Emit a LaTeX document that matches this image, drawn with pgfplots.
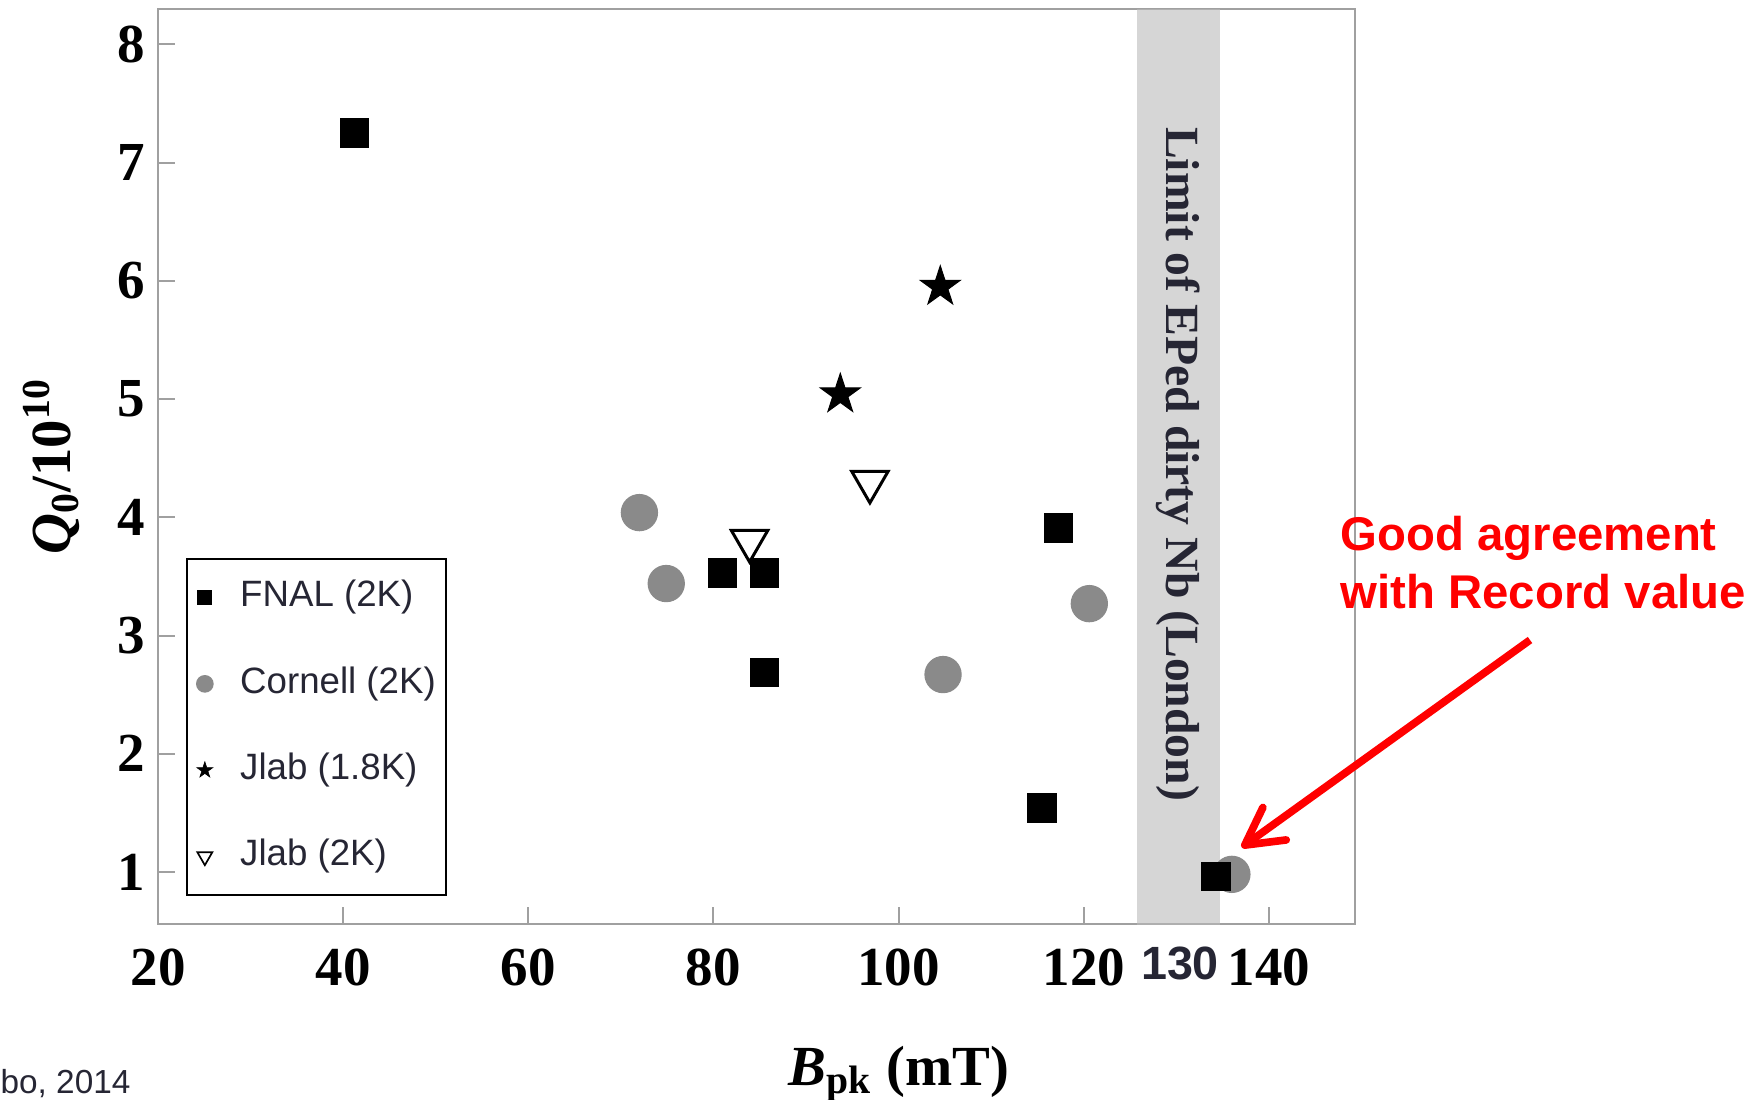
\documentclass[border=0pt]{standalone}
\usepackage{pgfplots}
\pgfplotsset{compat=1.18}
\usepackage{fontspec}
\setmainfont{Liberation Serif}
\newfontfamily\arial{Liberation Sans}
\usetikzlibrary{arrows.meta}
\definecolor{framegray}{RGB}{160,160,160}
\definecolor{cgray}{RGB}{138,138,138}
\definecolor{bandgray}{RGB}{186,186,186}
\definecolor{txtdark}{RGB}{38,38,52}
\definecolor{annred}{RGB}{255,0,0}
\pgfdeclareplotmark{fstar}{%
 \pgfpathmoveto{\pgfpointpolar{90}{\pgfplotmarksize}}%
 \pgfpathlineto{\pgfpointpolar{126}{0.382\pgfplotmarksize}}%
 \pgfpathlineto{\pgfpointpolar{162}{\pgfplotmarksize}}%
 \pgfpathlineto{\pgfpointpolar{198}{0.382\pgfplotmarksize}}%
 \pgfpathlineto{\pgfpointpolar{234}{\pgfplotmarksize}}%
 \pgfpathlineto{\pgfpointpolar{270}{0.382\pgfplotmarksize}}%
 \pgfpathlineto{\pgfpointpolar{306}{\pgfplotmarksize}}%
 \pgfpathlineto{\pgfpointpolar{342}{0.382\pgfplotmarksize}}%
 \pgfpathlineto{\pgfpointpolar{18}{\pgfplotmarksize}}%
 \pgfpathlineto{\pgfpointpolar{54}{0.382\pgfplotmarksize}}%
 \pgfpathclose
 \pgfusepathqfillstroke}
\pgfplotsset{pointlegend/.style={legend image code/.code={\draw[##1] plot coordinates {(0pt,0pt)};}}}
\newcommand\ticklbl{\fontsize{16.5}{19}\selectfont\bfseries}
\newcommand\lbl{\fontsize{17}{20}\selectfont\bfseries}
\newcommand\legfont{\arial\fontsize{11}{13}\selectfont}
\begin{document}
\begin{tikzpicture}
\useasboundingbox (0,0) rectangle (526.2pt,329.7pt);
\begin{axis}[
 scale only axis, width=359.1pt, height=274.5pt,
 at={(47.4pt,52.5pt)}, anchor=south west,
 xmin=20, xmax=149.3, ymin=0.56, ymax=8.3,
 xtick={20,40,...,140}, ytick={1,2,...,8},
 xtick pos=bottom, ytick pos=left,
 tick align=inside, major tick length=5pt,
 tick style={line width=0.6pt, draw=framegray},
 axis line style={line width=0.8pt, draw=framegray},
 /pgf/number format/assume math mode=true,
 ticklabel style={font=\ticklbl, text=black},
 xticklabel style={yshift=-4pt},
 yticklabel style={xshift=-0.3pt},
 xlabel={\itshape B\upshape\textsubscript{pk} (mT)},
 ylabel={\itshape Q\upshape\textsubscript{0}/10\textsuperscript{10}},
 every axis x label/.style={at={(axis description cs:0.619,-0.176)}, anchor=base, font=\lbl},
 every axis y label/.style={at={(axis description cs:-0.0893,0.5)}, anchor=center, rotate=90, font=\lbl},
 legend style={at={(axis description cs:0.0234,0.400)}, anchor=north west,
   draw=black, line width=0.5pt, fill=white,
   inner xsep=3pt, inner ysep=6.5pt, row sep=15.7pt, column sep=8.2pt,
   font=\legfont, text=txtdark,
   nodes={inner sep=0pt, text height=7.9pt, text depth=2.3pt}},
 legend cell align=left,
]
% legend images
\addlegendimage{only marks, mark=square*, mark size=2pt, black, pointlegend}
\addlegendentry{FNAL (2K)}
\addlegendimage{only marks, mark=*, mark size=2.4pt, cgray, mark options={draw=cgray, fill=cgray}, pointlegend}
\addlegendentry{Cornell (2K)\hspace{2.7pt}}
\addlegendimage{only marks, mark=fstar, mark size=2.5pt, black, mark options={line width=0.2pt}, pointlegend}
\addlegendentry{Jlab (1.8K)}
\addlegendimage{only marks, mark=triangle, mark size=2.6pt, black, mark options={rotate=180, line width=0.5pt, fill=white}, pointlegend}
\addlegendentry{Jlab (2K)}
% Cornell
\addplot[only marks, mark=*, mark size=5.4pt, mark options={draw=cgray, fill=cgray}, forget plot]
 coordinates {(72.0,4.04) (74.9,3.44) (104.8,2.67) (120.6,3.27) (136.0,0.98)};
% Jlab 1.8K
\addplot[only marks, mark=fstar, mark size=6.3pt, mark options={draw=black, fill=black, line width=0.3pt}, forget plot]
 coordinates {(93.7,5.04) (104.5,5.95)};
% Jlab 2K
\addplot[only marks, mark=triangle, mark size=6.3pt, mark options={draw=black, fill=white, rotate=180, line width=0.9pt}, forget plot]
 coordinates {(83.9,3.80) (96.9,4.30)};
% FNAL
\addplot[only marks, mark=square*, mark size=4.2pt, mark options={draw=black, fill=black}, forget plot]
 coordinates {(41.2,7.25) (81.0,3.53) (85.5,3.53) (85.5,2.69) (117.3,3.91) (115.5,1.54) (134.3,0.96)};
% band
\addplot[draw=none, fill=bandgray, fill opacity=0.59, forget plot]
 coordinates {(125.7,0.4) (134.7,0.4) (134.7,8.4) (125.7,8.4)} -- cycle;
\node[rotate=-90, font=\fontsize{14.3}{17}\selectfont\bfseries, text=txtdark, inner sep=0pt] at (axis cs:130.2,4.45) {Limit of EPed dirty Nb (London)};
\end{axis}
\node[anchor=base, font=\arial\fontsize{14}{16}\selectfont\bfseries, text=txtdark, inner sep=0pt] at (354pt,36pt) {130};
\node[anchor=base west, font=\arial\fontsize{14.2}{17}\selectfont\bfseries, text=annred, inner sep=0pt] at (402pt,164.6pt) {Good agreement};
\node[anchor=base west, font=\arial\fontsize{14.2}{17}\selectfont\bfseries, text=annred, inner sep=0pt] at (402pt,147.3pt) {with Record value};
\draw[annred, line width=2.3pt, -{Straight Barb[length=11pt,width=12pt,line cap=round,line join=round]}] (459pt,137.7pt) -- (372.5pt,75.5pt);
\node[anchor=base west, font=\arial\fontsize{10}{12}\selectfont, text=txtdark, inner sep=0pt] at (0pt,1.8pt) {bo, 2014};
\end{tikzpicture}
\end{document}
